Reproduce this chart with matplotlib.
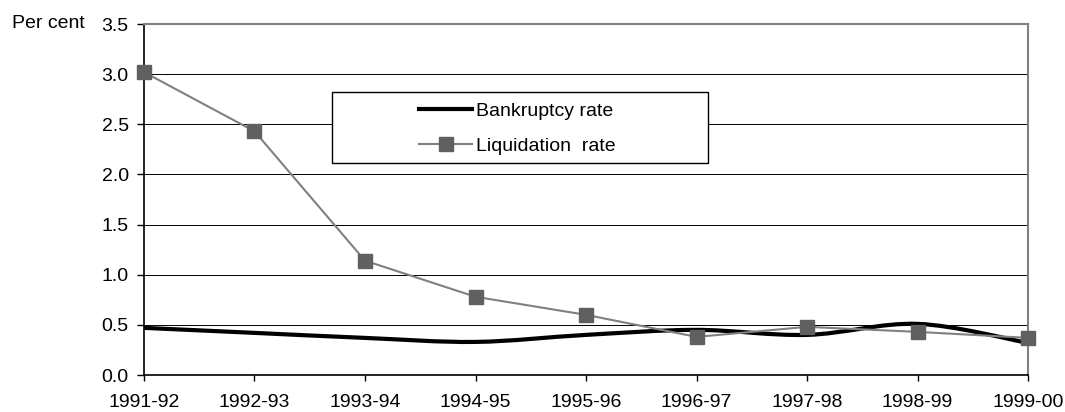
"""Bankruptcy vs liquidation rate, 1991-92 to 1999-00."""

import numpy as np
import matplotlib
matplotlib.use("Agg")
import matplotlib.pyplot as plt
from matplotlib.path import Path
from matplotlib.patches import PathPatch, Rectangle
from matplotlib.lines import Line2D

plt.rcParams["font.family"] = ["Liberation Sans", "DejaVu Sans"]

years = ["1991-92", "1992-93", "1993-94", "1994-95", "1995-96",
         "1996-97", "1997-98", "1998-99", "1999-00"]
bankruptcy = [0.47, 0.42, 0.37, 0.33, 0.40, 0.45, 0.40, 0.51, 0.32]
liquidation = [3.02, 2.43, 1.14, 0.78, 0.60, 0.38, 0.48, 0.43, 0.37]
y_ticks = [0.0, 0.5, 1.0, 1.5, 2.0, 2.5, 3.0, 3.5]

INK = "#000000"
GREY_LINE = "#808080"
GREY_MARK = "#606060"
FS = 14


def smooth_path(xs, ys):
    """Bezier path through the points (Catmull-Rom style control points)."""
    pts = np.column_stack([xs, ys]).astype(float)
    n = len(pts)
    verts = [pts[0]]
    codes = [Path.MOVETO]
    for i in range(n - 1):
        p0 = pts[i - 1] if i > 0 else pts[i]
        p1, p2 = pts[i], pts[i + 1]
        p3 = pts[i + 2] if i + 2 < n else pts[i + 1]
        c1 = p1 + (p2 - p0) / 6.0
        c2 = p2 - (p3 - p1) / 6.0
        verts += [c1, c2, p2]
        codes += [Path.CURVE4] * 3
    return Path(verts, codes)


fig = plt.figure(figsize=(10.65, 4.12), dpi=100)
ax = fig.add_axes([144 / 1065, 1 - 375 / 412, (1028 - 144) / 1065, (375 - 24) / 412])

x = np.arange(len(years))

for v in y_ticks[1:-1]:
    ax.axhline(v, color=INK, lw=0.7, zorder=1)

ax.add_patch(PathPatch(smooth_path(x, bankruptcy), fill=False, ec=INK,
                       lw=3.0, zorder=3, clip_on=False))
ax.plot(x, liquidation, color=GREY_LINE, lw=1.5, marker="s", markersize=10,
        markerfacecolor=GREY_MARK, markeredgecolor=GREY_MARK, zorder=4,
        clip_on=False)

ax.set_xlim(0, len(years) - 1)
ax.set_ylim(0, 3.5)
ax.set_xticks(x)
ax.set_xticklabels(years)
ax.set_yticks(y_ticks)
ax.set_yticklabels([f"{v:.1f}" for v in y_ticks])
ax.tick_params(axis="x", length=4, width=1, pad=10, labelsize=FS, color=INK)
ax.tick_params(axis="y", length=5, width=1, pad=6, labelsize=FS, color=INK)

ax.spines["left"].set_color(INK)
ax.spines["bottom"].set_color(INK)
ax.spines["left"].set_linewidth(1.2)
ax.spines["bottom"].set_linewidth(1.2)
ax.spines["right"].set_color(GREY_LINE)
ax.spines["top"].set_color(GREY_LINE)
ax.spines["right"].set_linewidth(1.5)
ax.spines["top"].set_linewidth(1.5)

fig.text(12 / 1065, 1 - 24 / 412, "Per cent", fontsize=FS, va="center", ha="left")

# legend box
bx0, bx1 = 332 / 1065, 708 / 1065
by0, by1 = 1 - 163 / 412, 1 - 92 / 412
fig.patches.append(Rectangle((bx0, by0), bx1 - bx0, by1 - by0, transform=fig.transFigure,
                             facecolor="white", edgecolor=INK, lw=1.0, zorder=5))
handles = [
    Line2D([], [], color=INK, lw=3.0),
    Line2D([], [], color=GREY_LINE, lw=1.5, marker="s", markersize=10,
           markerfacecolor=GREY_MARK, markeredgecolor=GREY_MARK),
]
leg = fig.legend(handles, ["Bankruptcy rate", "Liquidation  rate"],
                 loc="upper left", bbox_to_anchor=(419 / 1065, 1 - 102 / 412),
                 frameon=False, fontsize=FS, handlelength=2.75, handletextpad=0.2,
                 labelspacing=0.9, borderpad=0, borderaxespad=0)
leg.set_zorder(6)

fig.savefig("out.png", dpi=100, facecolor="white")
